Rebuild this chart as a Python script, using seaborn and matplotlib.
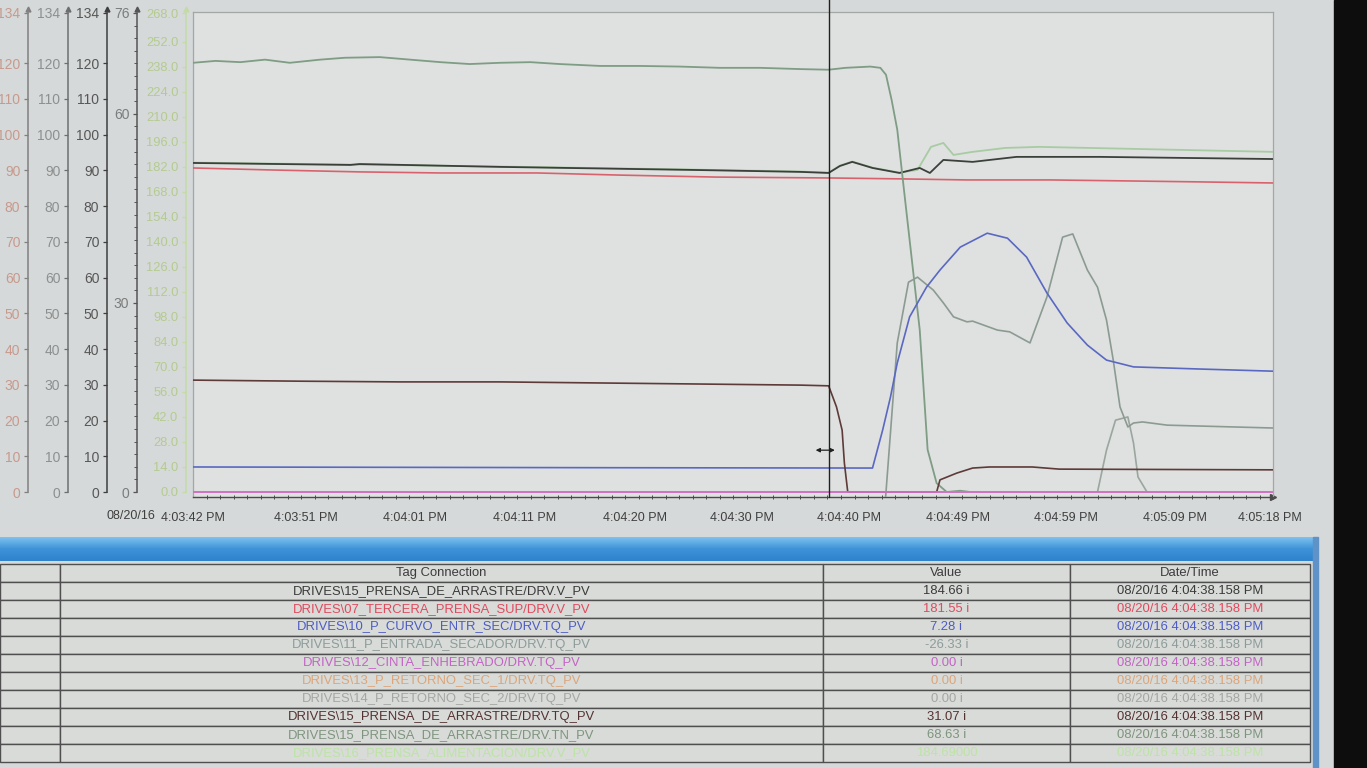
import numpy as np
import pandas as pd
import seaborn as sns
import matplotlib.pyplot as plt
from matplotlib.ticker import FixedLocator, MultipleLocator
from matplotlib.patches import Rectangle
from matplotlib.colors import LinearSegmentedColormap
from matplotlib.transforms import offset_copy

# x axis: seconds after 4:03:42 PM
x_ticks = [0, 10.0, 19.7, 29.5, 39.3, 48.8, 58.3, 68.0, 77.6, 87.3, 95.7]
x_labels = ["4:03:42 PM", "4:03:51 PM", "4:04:01 PM", "4:04:11 PM", "4:04:20 PM",
            "4:04:30 PM", "4:04:40 PM", "4:04:49 PM", "4:04:59 PM", "4:05:09 PM", "4:05:18 PM"]
date_label = "08/20/16"
cursor_t = 56.5

# y axes (left side)
ticks_134 = [0, 10, 20, 30, 40, 50, 60, 70, 80, 90, 100, 110, 120, 134]
ticks_76 = [0, 30, 60, 76]
ticks_268 = [0, 14, 28, 42, 56, 70, 84, 98, 112, 126, 140, 154, 168, 182, 196, 210, 224, 238, 252, 268]

# 15_PRENSA_DE_ARRASTRE V_PV (0-268 axis)
v15_t = [0, 14.0, 14.8, 27.3, 44.4, 54.0, 56.5, 57.5, 58.6, 60.4, 62.8, 64.6, 65.5, 66.7, 69.3, 73.2, 80.6, 96]
v15_v = [184.1, 183.0, 183.5, 181.9, 180.2, 179.1, 178.5, 182.4, 184.7, 181.3, 178.5, 181.3, 178.5, 185.8, 184.7, 187.5, 187.5, 186.3]
# 07_TERCERA_PRENSA_SUP V_PV (0-268 axis)
v07_t = [0, 6.8, 14.8, 22.0, 30.6, 38.0, 46.5, 56.6, 62.8, 68.8, 76.2, 83.6, 89.5, 96]
v07_v = [181.3, 180.2, 179.1, 178.5, 178.5, 177.3, 176.2, 175.7, 175.2, 174.6, 174.6, 174.0, 173.5, 172.9]
# 16_PRENSA_ALIMENTACION V_PV (0-268 axis)
v16_t = [0, 14.0, 27.3, 44.4, 54.0, 56.5, 57.5, 58.6, 60.4, 62.8, 64.4, 65.6, 66.7, 67.6, 69.3, 72.2, 75.2, 96]
v16_v = [184.3, 183.2, 182.1, 180.4, 179.3, 178.7, 182.6, 184.9, 181.5, 178.7, 180.2, 193.1, 195.3, 188.6, 190.3, 192.5, 193.1, 190.3]
# 15_PRENSA_DE_ARRASTRE TN_PV (0-76 axis)
tn15_t = [0, 2.0, 4.2, 6.4, 8.6, 11.3, 13.5, 16.6, 19.3, 22.0, 24.6, 27.3, 30.0, 32.6, 36.2, 39.7, 43.3, 46.8, 50.4,
          54.0, 56.5, 58.0, 60.2, 61.1, 61.6, 62.1, 62.6, 63.3, 63.9, 64.6, 65.3, 66.1, 67.0, 68.2, 69.1, 71.7, 96]
tn15_v = [68.1, 68.4, 68.2, 68.6, 68.1, 68.6, 68.9, 69.0, 68.6, 68.2, 67.9, 68.1, 68.2, 67.9, 67.6, 67.6, 67.5, 67.3, 67.3,
          67.1, 67.0, 67.3, 67.5, 67.3, 66.2, 62.2, 57.5, 46.3, 36.8, 25.7, 6.7, 1.4, 0.0, 0.2, 0.0, 0.0, 0.0]
# torques (0-134 axes)
tq15_t = [0, 9.5, 18.4, 27.3, 36.2, 45.2, 54.0, 56.5, 57.2, 57.7, 57.9, 58.2, 66.1, 66.4, 67.9, 69.3, 70.8, 74.6, 77.0, 96]
tq15_v = [31.3, 31.0, 30.8, 30.8, 30.5, 30.2, 29.9, 29.7, 23.8, 17.3, 8.1, 0.0, 0.0, 3.4, 5.3, 6.7, 7.0, 7.0, 6.4, 6.2]
tq10_t = [0, 18.4, 36.2, 60.4, 61.3, 62.0, 62.6, 63.7, 65.2, 66.4, 68.2, 70.6, 72.4, 74.1, 75.9, 77.7, 79.5, 81.2, 83.6, 89.5, 96]
tq10_v = [7.0, 6.9, 6.8, 6.7, 17.3, 26.6, 36.1, 49.0, 57.3, 62.1, 68.5, 72.4, 71.0, 65.7, 55.7, 47.3, 41.1, 36.9, 35.0, 34.4, 33.8]
tq11_t = [0, 61.0, 61.6, 62.6, 63.6, 64.4, 65.8, 66.7, 67.6, 68.8, 69.3, 71.5, 72.6, 74.4, 75.9, 77.3, 78.2, 79.5, 80.4,
          81.2, 81.8, 82.4, 83.1, 83.6, 84.4, 86.6, 96]
tq11_v = [-26.3, -26.3, 0.0, 41.7, 58.7, 60.1, 56.5, 52.9, 49.0, 47.6, 47.8, 45.3, 44.8, 41.7, 54.5, 71.3, 72.2, 62.1, 57.3,
          48.1, 36.9, 23.8, 18.2, 19.3, 19.6, 18.7, 17.9]
tq14_t = [0, 80.4, 81.2, 82.0, 83.1, 83.6, 84.0, 84.8, 96]
tq14_v = [0, 0, 11.7, 20.1, 21.0, 13.7, 4.2, 0, 0]
tq12_t = [0, 96]
tq12_v = [0, 0]
tq13_t = [0, 96]
tq13_v = [0, 0]

# table
tags = ["DRIVES\\15_PRENSA_DE_ARRASTRE/DRV.V_PV", "DRIVES\\07_TERCERA_PRENSA_SUP/DRV.V_PV",
        "DRIVES\\10_P_CURVO_ENTR_SEC/DRV.TQ_PV", "DRIVES\\11_P_ENTRADA_SECADOR/DRV.TQ_PV",
        "DRIVES\\12_CINTA_ENHEBRADO/DRV.TQ_PV", "DRIVES\\13_P_RETORNO_SEC_1/DRV.TQ_PV",
        "DRIVES\\14_P_RETORNO_SEC_2/DRV.TQ_PV", "DRIVES\\15_PRENSA_DE_ARRASTRE/DRV.TQ_PV",
        "DRIVES\\15_PRENSA_DE_ARRASTRE/DRV.TN_PV", "DRIVES\\16_PRENSA_ALIMENTACION/DRV.V_PV"]
values = ["184.66 i", "181.55 i", "7.28 i", "-26.33 i", "0.00 i", "0.00 i", "0.00 i", "31.07 i", "68.63 i", "184.69000"]
stamp = "08/20/16 4:04:38.158 PM"
tag_colors = ["#3a3a3a", "#e04a5e", "#4e5cc4", "#8d9c9a", "#c463c6", "#dca57a", "#a4a6a4", "#553232", "#7f947f", "#bde3a6"]

c_v15 = "#3b403b"
c_v07 = "#d8626c"
c_v16 = "#a9cba3"
c_tn15 = "#7f9c84"
c_tq15 = "#5e3a38"
c_tq10 = "#5a68c2"
c_tq11 = "#8c9b92"
c_tq12 = "#d46ec8"
c_tq13 = "#d9a277"
c_tq14 = "#9aa69e"

BG = "#d6d9d9"
PLOT_BG = "#dee1e0"

sns.set_style("white")
plt.rcParams['font.family'] = ['Liberation Sans', 'DejaVu Sans']

W, H = 1367, 768
fig = plt.figure(figsize=(W / 100, H / 100), dpi=100, facecolor=BG)


def lims(top):
    return (-top * 5 / 479, top * 480 / 479)


ax = fig.add_axes([193 / W, (H - 497) / H, 1080 / W, 485 / H])
ax.set_facecolor(PLOT_BG)
ax.set_ylim(lims(134))
ax.set_yticks([])
for s in ["top", "right", "left"]:
    ax.spines[s].set_color("#a3a8a7")
    ax.spines[s].set_linewidth(0.9)
ax.spines["bottom"].set_color("#4a4a4a")
ax.spines["bottom"].set_linewidth(1.0)

# left-hand scales: (name, max, ticks, offset px, spine color, label color, fmt, label size)
scale_specs = [
    ("s268", 268, ticks_268, 7, "#c3dba6", "#b4cb8f", "{:.1f}", 9.3),
    ("s76", 76, ticks_76, 56, "#555555", "#7b7d7c", "{:g}", 10),
    ("s134a", 134, ticks_134, 165, "#808080", "#c79a8d", "{:g}", 10),
    ("s134b", 134, ticks_134, 125, "#6e6e6e", "#8d908f", "{:g}", 10),
    ("s134c", 134, ticks_134, 86, "#3e3e3e", "#575757", "{:g}", 10),
]
axes = {}
for name, top, ticks, off, sc, lc, fmt, fs in scale_specs:
    tw = ax.twinx()
    tw.patch.set_visible(False)
    tw.set_ylim(lims(top))
    tw.yaxis.set_ticks_position("left")
    for s in ["top", "right", "bottom"]:
        tw.spines[s].set_visible(False)
    sp = tw.spines["left"]
    sp.set_visible(True)
    sp.set_position(("outward", off * 0.72))
    sp.set_bounds(0, top)
    sp.set_color(sc)
    sp.set_linewidth(1.1)
    tw.yaxis.set_major_locator(FixedLocator(ticks))
    tw.set_yticklabels([fmt.format(t) for t in ticks])
    tw.tick_params(axis="y", which="major", direction="out", length=3, width=0.9, pad=2.5,
                   colors=sc, labelcolor=lc, labelsize=fs)
    if name == "s76":
        tw.yaxis.set_minor_locator(MultipleLocator(2))
        tw.tick_params(axis="y", which="minor", direction="out", length=2, width=0.7, color=sc)
    tr = offset_copy(tw.transAxes, fig=fig, x=-off * 0.72, y=2, units="points")
    tw.plot(0, 1.0, marker="^", ms=3.5, color=sc, transform=tr, clip_on=False)
    axes[name] = tw

ax_v = axes["s268"]
ax_tn = axes["s76"]
ax_tq = axes["s134c"]

sns.lineplot(x=v16_t, y=v16_v, ax=ax_v, color=c_v16, lw=1.3, estimator=None, sort=False)
sns.lineplot(x=v07_t, y=v07_v, ax=ax_v, color=c_v07, lw=1.2, estimator=None, sort=False)
sns.lineplot(x=v15_t, y=v15_v, ax=ax_v, color=c_v15, lw=1.3, estimator=None, sort=False)
sns.lineplot(x=tn15_t, y=tn15_v, ax=ax_tn, color=c_tn15, lw=1.3, estimator=None, sort=False)
sns.lineplot(x=tq13_t, y=tq13_v, ax=axes["s134a"], color=c_tq13, lw=1.2, estimator=None, sort=False)
sns.lineplot(x=tq14_t, y=tq14_v, ax=axes["s134b"], color=c_tq14, lw=1.2, estimator=None, sort=False)
sns.lineplot(x=tq11_t, y=tq11_v, ax=ax_tq, color=c_tq11, lw=1.2, estimator=None, sort=False)
sns.lineplot(x=tq10_t, y=tq10_v, ax=ax_tq, color=c_tq10, lw=1.2, estimator=None, sort=False)
sns.lineplot(x=tq15_t, y=tq15_v, ax=ax_tq, color=c_tq15, lw=1.2, estimator=None, sort=False)
sns.lineplot(x=tq12_t, y=tq12_v, ax=ax_tq, color=c_tq12, lw=1.3, estimator=None, sort=False)

for a in [ax] + list(axes.values()):
    a.set_xlabel("")
    a.set_ylabel("")

# time cursor, runs up past the frame like on the HMI
ax_tq.axvline(cursor_t, ymin=0, ymax=1.03, color="#202020", lw=1.0, clip_on=False)
ax_tq.annotate("", xy=(cursor_t - 1.4, 11.7), xytext=(cursor_t + 0.8, 11.7),
               arrowprops=dict(arrowstyle="<|-|>", color="#202020", lw=0.9, mutation_scale=6))

ax.set_xlim(0, 96)
ax.xaxis.set_major_locator(FixedLocator(x_ticks))
ax.set_xticklabels(x_labels)
ax.xaxis.set_minor_locator(MultipleLocator(1.2))
ax.tick_params(axis="x", which="major", direction="inout", length=6, width=0.9, pad=8,
               color="#4a4a4a", labelcolor="#3f3f3f", labelsize=9)
ax.tick_params(axis="x", which="minor", direction="inout", length=3, width=0.7, color="#4a4a4a", bottom=True)
ax.plot(1, 0, marker=">", ms=4, color="#4a4a4a", transform=ax.transAxes, clip_on=False)
ax.annotate(date_label, xy=(0, 0), xycoords="axes fraction", xytext=(-38, -13), textcoords="offset pixels",
            ha="right", va="top", fontsize=9, color="#3f3f3f")

# blue title bar of the tag panel
bar = fig.add_axes([0, (H - 561) / H, 1318 / W, 24 / H])
grad = np.linspace(0, 1, 24).reshape(-1, 1)
bar.imshow(grad, aspect="auto", cmap=LinearSegmentedColormap.from_list("bar", ["#7cc0ee", "#3d93d8", "#2f82cc"]))
bar.axis("off")

# tag table
tax = fig.add_axes([0, 6 / H, 1310 / W, 198 / H])
tax.axis("off")
rows = [["", "Tag Connection", "Value", "Date/Time"]] + [["", t, v, stamp] for t, v in zip(tags, values)]
tbl = tax.table(cellText=rows, colWidths=[60 / 1310, 763 / 1310, 247 / 1310, 240 / 1310],
                bbox=[0, 0, 1, 1], cellLoc="center")
tbl.auto_set_font_size(False)
tbl.set_fontsize(9.4)
for (r, c), cell in tbl.get_celld().items():
    cell.set_edgecolor("#4f4f4f")
    cell.set_linewidth(1.0)
    cell.set_facecolor("#d8dbd8")
    if r == 0:
        cell.get_text().set_color("#3c3c3c")
    else:
        cell.get_text().set_color(tag_colors[r - 1])

# panel frame and monitor bezel
fig.patches.append(Rectangle((1313 / W, 0), 5 / W, 231 / H, transform=fig.transFigure, color="#5f93c8", zorder=9))
fig.patches.append(Rectangle((1334 / W, 0), 33 / W, 1, transform=fig.transFigure, color="#0d0d0d", zorder=10))

plt.savefig("out.png", dpi=100, facecolor=BG)
